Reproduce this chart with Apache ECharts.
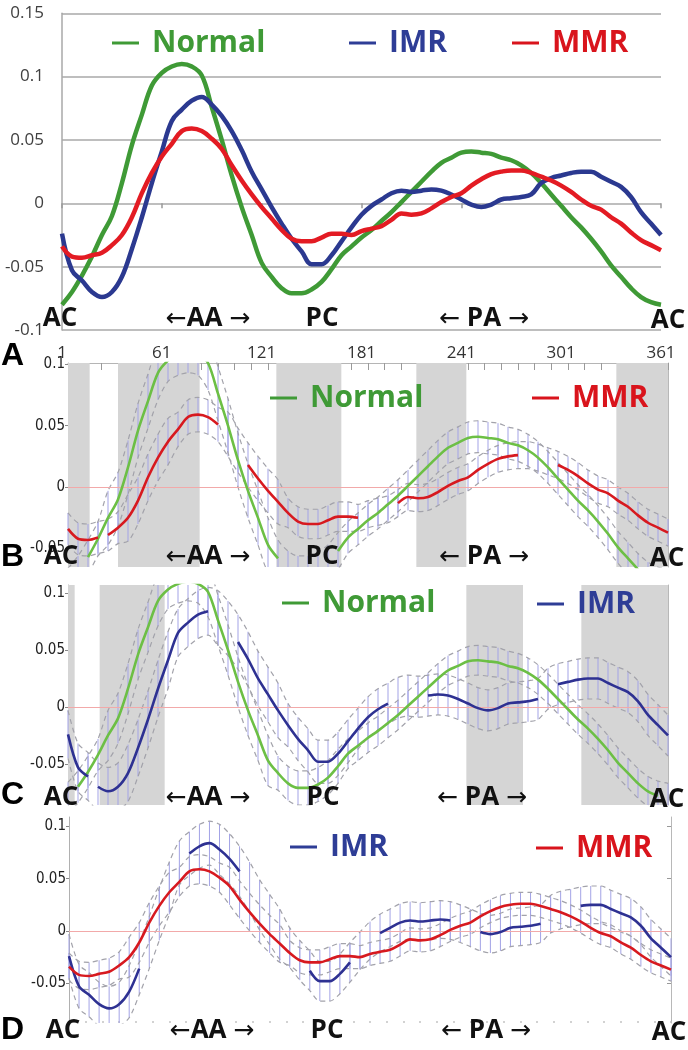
<!DOCTYPE html>
<html><head><meta charset="utf-8">
<script src="https://cdn.jsdelivr.net/npm/echarts@6/dist/echarts.min.js"></script>
<style>html,body{margin:0;padding:0;background:#fff}#c{width:688px;height:1050px}</style>
</head><body><div id="c"></div>
<script>
// ---------- data ----------
const deg = [1,7,13,19,25,31,37,43,49,55,61,67,73,79,85,91,97,103,109,115,121,127,133,139,145,151,157,163,169,175,181,187,193,199,205,211,217,223,229,235,241,247,253,259,265,271,277,283,289,295,301,307,313,319,325,331,337,343,349,355,361];
const normal = [-0.080,-0.070,-0.057,-0.042,-0.025,-0.010,0.016,0.046,0.070,0.093,
  0.103,0.108,0.110,0.108,0.101,0.076,0.050,0.022,-0.003,-0.025,
  -0.047,-0.058,-0.067,-0.071,-0.071,-0.068,-0.062,-0.052,-0.041,-0.034,
  -0.027,-0.021,-0.014,-0.007,0.001,0.009,0.017,0.025,0.032,0.036,
  0.040,0.041,0.040,0.039,0.036,0.034,0.030,0.024,0.016,0.007,
  -0.002,-0.011,-0.019,-0.028,-0.038,-0.049,-0.058,-0.067,-0.074,-0.078,-0.080];
const imr = [-0.024,-0.053,-0.061,-0.070,-0.074,-0.070,-0.058,-0.036,-0.011,0.016,
  0.041,0.065,0.074,0.081,0.084,0.078,0.069,0.057,0.042,0.025,
  0.011,-0.003,-0.016,-0.028,-0.038,-0.048,-0.048,-0.041,-0.030,-0.019,
  -0.009,-0.002,0.003,0.008,0.010,0.009,0.010,0.011,0.010,0.007,
  0.003,-0.001,-0.003,-0.001,0.003,0.004,0.005,0.007,0.016,0.020,
  0.022,0.024,0.025,0.025,0.021,0.017,0.013,0.005,-0.007,-0.016,-0.025];
const mmr = [-0.034,-0.042,-0.043,-0.041,-0.039,-0.033,-0.025,-0.011,0.008,0.024,
  0.037,0.047,0.057,0.059,0.057,0.051,0.043,0.030,0.018,0.007,
  -0.003,-0.012,-0.021,-0.028,-0.030,-0.030,-0.027,-0.024,-0.024,-0.025,
  -0.022,-0.020,-0.018,-0.013,-0.008,-0.009,-0.008,-0.004,0.001,0.005,
  0.008,0.014,0.019,0.023,0.025,0.026,0.026,0.024,0.021,0.018,
  0.014,0.009,0.003,-0.002,-0.005,-0.011,-0.016,-0.023,-0.029,-0.033,-0.037];
// half-widths of the dashed confidence envelopes
const ciNormal = [0.014,0.014,0.014,0.014,0.022,0.022,0.022,0.022,0.022,0.022,
  0.017,0.017,0.017,0.017,0.022,0.022,0.022,0.022,0.022,0.022,
  0.022,0.015,0.015,0.015,0.015,0.015,0.015,0.015,0.013,0.013,
  0.013,0.013,0.013,0.013,0.013,0.013,0.013,0.013,0.013,0.013,
  0.013,0.013,0.013,0.013,0.013,0.013,0.013,0.013,0.013,0.013,
  0.013,0.013,0.013,0.013,0.013,0.013,0.013,0.013,0.013,0.013,0.013];
const ciImr = [0.021,0.021,0.021,0.021,0.021,0.021,0.025,0.025,0.025,0.025,
  0.025,0.021,0.021,0.021,0.021,0.024,0.024,0.024,0.024,0.024,
  0.024,0.024,0.019,0.019,0.019,0.019,0.019,0.019,0.019,0.018,
  0.018,0.018,0.018,0.018,0.018,0.018,0.018,0.018,0.018,0.018,
  0.018,0.018,0.018,0.018,0.018,0.018,0.018,0.018,0.018,0.018,
  0.018,0.018,0.018,0.018,0.018,0.018,0.018,0.018,0.018,0.018,0.018];
const ciMmr = [0.013,0.013,0.013,0.013,0.013,0.013,0.019,0.019,0.019,0.019,
  0.019,0.014,0.014,0.014,0.014,0.014,0.018,0.018,0.018,0.018,
  0.018,0.018,0.012,0.012,0.012,0.012,0.012,0.012,0.012,0.011,
  0.011,0.011,0.011,0.011,0.011,0.011,0.011,0.011,0.011,0.011,
  0.011,0.011,0.011,0.011,0.011,0.011,0.011,0.011,0.011,0.011,
  0.011,0.011,0.011,0.011,0.011,0.011,0.011,0.011,0.011,0.011,0.011];
const aXLabels = [1,61,121,181,241,301,361];
const minorTicks = [1,11,21,31,41,51,61,71,81,91,101,111,121,131,141,151,161,171,181,191,201,211,221,231,241,251,261,271,281,291,301,311,321,331,341,351,361];
const yTicks = [-0.05,0,0.05,0.1];
// significant-difference regions (degrees)
const grayB = [[1,14],[31,80],[126,165],[210,240],[330,361]];
const grayC = [[1,5],[20,59],[240,274],[309,361]];
// drawn parts of the mean curves (degrees)
const segBNormal = [[13,127],[163,343]];
const segBMmr = [[1,19],[25,91],[109,175],[199,271],[295,361]];
const segCNormal = [[7,355]];
const segCImr = [[1,13],[19,85],[103,193],[217,287],[295,361]];
const segDImr = [[1,43],[73,103],[145,169],[187,229],[247,287],[307,361]];
const segDMmr = [[1,361]];
const regionLabels = ['AC','{a|\u2190}AA {a|\u2192}','PC','{a|\u2190} PA {a|\u2192}','AC'];

// ---------- helpers ----------
const C = {gA:'#3f9a36', bA:'#2b3990', rA:'#e31b23', g:'#6cbf45', b:'#2e3192', r:'#d7191f',
  gTxt:'#3f9a36', bTxt:'#2e3d96', rTxt:'#d9141c'};
const narrow = "'Liberation Sans Narrow','DejaVu Sans Condensed',sans-serif";

function pairs(vals){ return deg.map((d,i)=>[d, vals[i]]); }
function segLine(vals, segs){
  const out=[]; let prev=-1;
  deg.forEach((d,i)=>{
    const s = segs.findIndex(r=>d>=r[0]&&d<=r[1]);
    if(i>0 && s!==prev && s>=0 && prev>=0) out.push([(d+deg[i-1])/2,'-']);
    out.push([d, s>=0 ? vals[i] : '-']);
    prev=s;
  });
  return out;
}
function hatchItem(params, api){
  const x=api.value(0), lo=api.value(1), hi=api.value(2);
  const p1=api.coord([x,lo]), p2=api.coord([x,hi]);
  const cs=params.coordSys, top=cs.y, bot=cs.y+cs.height;
  const y1=Math.min(Math.max(p1[1],top),bot), y2=Math.min(Math.max(p2[1],top),bot);
  if(Math.abs(y1-y2)<0.5) return null;
  return {type:'line', shape:{x1:p1[0],y1:y1,x2:p1[0],y2:y2}, style:{stroke:'#a3a3e6', lineWidth:1}};
}
function grayItem(params, api){
  const a=api.coord([api.value(0),0]), b=api.coord([api.value(1),0]);
  const cs=params.coordSys;
  return {type:'rect', shape:{x:a[0], y:cs.y, width:b[0]-a[0], height:cs.height}, style:{fill:'#d5d5d5'}};
}
function grayS(data, xi, yi){
  return {type:'custom', xAxisIndex:xi, yAxisIndex:yi, renderItem:grayItem, data:data, encode:{x:[0,1]}, z:1, silent:true};
}
function band(vals, ci, xi, yi, zero){
  const up = deg.map((d,i)=>[d, +(vals[i]+ci[i]).toFixed(4)]);
  const lo = deg.map((d,i)=>[d, +(vals[i]-ci[i]).toFixed(4)]);
  const dash = {type:[5,4], color:'#a2a2aa', width:1.2};
  const s = [
    {type:'custom', xAxisIndex:xi, yAxisIndex:yi, renderItem:hatchItem,
      data: deg.map((d,i)=>[d, lo[i][1], up[i][1]]), encode:{x:0, y:[1,2]}, z:2, silent:true},
    {type:'line', xAxisIndex:xi, yAxisIndex:yi, data:up, smooth:0.3, showSymbol:false, lineStyle:dash, z:3, silent:true},
    {type:'line', xAxisIndex:xi, yAxisIndex:yi, data:lo, smooth:0.3, showSymbol:false, lineStyle:dash, z:3, silent:true}
  ];
  if(zero) s[2].markLine = {silent:true, symbol:'none', label:{show:false},
    lineStyle:{color:'#f2a9a9', width:1, type:'solid'}, data:[{yAxis:0}]};
  return s;
}
function mean(name, vals, segs, color, xi, yi){
  return {name:name, type:'line', xAxisIndex:xi, yAxisIndex:yi, data:segLine(vals, segs), smooth:0.3,
    showSymbol:false, connectNulls:false, lineStyle:{color:color, width:2.6}, itemStyle:{color:color}, z:5};
}
function lineA(name, vals, color, z){
  return {name:name, type:'line', xAxisIndex:0, yAxisIndex:0, data:pairs(vals), smooth:0.4,
    showSymbol:false, lineStyle:{color:color, width:4.5}, itemStyle:{color:color}, z:z};
}
function leftY(gi, min, max){
  return {gridIndex:gi, type:'value', min:min, max:max, position:'left',
    axisLine:{show:true, onZero:false, lineStyle:{color:'#b0b0b0', width:1}},
    axisTick:{show:true, customValues:yTicks, length:3, lineStyle:{color:'#888'}},
    axisLabel:{customValues:yTicks, margin:3, fontSize:15, fontFamily:narrow, color:'#222',
      formatter:v=>String(+(+v).toFixed(2))},
    splitLine:{show:false}};
}
function rightY(gi, min, max){
  return {gridIndex:gi, type:'value', min:min, max:max, position:'right',
    axisLine:{show:true, onZero:false, lineStyle:{color:'#b8b8b8', width:1}},
    axisTick:{show:true, inside:true, customValues:yTicks, length:4, lineStyle:{color:'#999'}},
    axisLabel:{show:false}, splitLine:{show:false}};
}

// ---------- graphics: legends, region labels, panel letters ----------
const graphic = [];
function legend(x, y, label, color){
  graphic.push({type:'rect', z:100, shape:{x:x, y:y-1.5, width:27, height:3}, style:{fill:color}});
  graphic.push({type:'text', z:100, x:x+40, y:y, style:{text:label, fill:color, font:'bold 30px "Open Sans"',
    textAlign:'left', textVerticalAlign:'middle', align:'left', verticalAlign:'middle'}});
}
legend(112,43,'Normal',C.gTxt); legend(349,43,'IMR',C.bTxt); legend(512,43,'MMR',C.rTxt);
legend(270,398,'Normal',C.gTxt); legend(532,398,'MMR',C.rTxt);
legend(282,603,'Normal',C.gTxt); legend(537,604,'IMR',C.bTxt);
legend(290,847,'IMR',C.bTxt); legend(536,848,'MMR',C.rTxt);
const arrowRich = {a:{fontFamily:'DejaVu Sans', fontSize:25, fontWeight:'normal', fill:'#111', color:'#111'}};
function regions(xs, y){
  xs.forEach((x,i)=>graphic.push({type:'text', z:100, x:x, y:(i===4? y+2 : y), style:{text:regionLabels[i], fill:'#111',
    font:'bold 26px "Open Sans"', rich:arrowRich, textAlign:'center', textVerticalAlign:'middle', align:'center', verticalAlign:'middle'}}));
}
regions([60,208,322,484,668],319);
regions([61,208,322,484,667],557);
regions([61,208,323,482,667],798);
regions([63,212,327,486,669],1031);
[['A',356],['B',557],['C',795],['D',1030]].forEach(p=>graphic.push({type:'text', z:100, x:1, y:p[1],
  style:{text:p[0], fill:'#000', font:'bold 32px "Liberation Sans"', textAlign:'left', textVerticalAlign:'middle', align:'left', verticalAlign:'middle'}}));

// ---------- option ----------
const option = {
  animation:false,
  backgroundColor:'#fff',
  graphic: graphic,
  grid:[
    {left:62, top:13.3, width:599, height:316.7},
    {left:68, top:363, width:600, height:204},
    {left:68, top:585, width:600, height:220},
    {left:69, top:817, width:602, height:206}
  ],
  xAxis:[
    {gridIndex:0, type:'value', min:1, max:361, position:'bottom',
      axisLine:{show:false, onZero:false}, axisTick:{show:false}, splitLine:{show:false},
      axisLabel:{customValues:aXLabels, margin:15, fontSize:17, color:'#333', fontFamily:'Open Sans'}},
    {gridIndex:0, type:'value', min:1, max:361, position:'bottom',
      axisLine:{show:false, onZero:true}, splitLine:{show:false}, axisLabel:{show:false},
      axisTick:{show:true, customValues:aXLabels, length:5, lineStyle:{color:'#999', width:1.5}}},
    {gridIndex:1, type:'value', min:1, max:361, position:'top',
      axisLine:{show:true, onZero:false, lineStyle:{color:'#b5b5b5', width:1}},
      axisTick:{show:true, inside:true, length:7, customValues:minorTicks, lineStyle:{color:'#9a9a9a'}},
      axisLabel:{show:false}, splitLine:{show:false}},
    {gridIndex:2, type:'value', min:1, max:361, position:'bottom',
      axisLine:{show:false, onZero:false}, axisTick:{show:false}, axisLabel:{show:false}, splitLine:{show:false}},
    {gridIndex:3, type:'value', min:1, max:361, position:'bottom',
      axisLine:{show:false, onZero:false}, axisLabel:{show:false}, splitLine:{show:false},
      axisTick:{show:true, inside:true, length:2, customValues:minorTicks, lineStyle:{color:'#c4c4c4', width:1.5}}}
  ],
  yAxis:[
    {gridIndex:0, type:'value', min:-0.1, max:0.15, interval:0.05,
      axisLine:{show:true, lineStyle:{color:'#a8a8a8', width:1.5}}, axisTick:{show:false},
      splitLine:{show:true, lineStyle:{color:'#a8a8a8', width:1.5}},
      axisLabel:{margin:18, fontSize:17, color:'#404040', fontFamily:'Open Sans', formatter:v=>String(+(+v).toFixed(2))}},
    leftY(1,-0.065,0.101), rightY(1,-0.065,0.101),
    leftY(2,-0.086,0.107), rightY(2,-0.086,0.107),
    leftY(3,-0.088,0.109), rightY(3,-0.088,0.109)
  ],
  series:[
    lineA('Normal', normal, C.gA, 3), lineA('IMR', imr, C.bA, 4), lineA('MMR', mmr, C.rA, 5),
    grayS(grayB,2,1),
    ...band(normal, ciNormal, 2, 1, true),
    ...band(mmr, ciMmr, 2, 1, false),
    mean('Normal', normal, segBNormal, C.g, 2, 1),
    mean('MMR', mmr, segBMmr, C.r, 2, 1),
    grayS(grayC,3,3),
    ...band(normal, ciNormal, 3, 3, true),
    ...band(imr, ciImr, 3, 3, false),
    mean('Normal', normal, segCNormal, C.g, 3, 3),
    mean('IMR', imr, segCImr, C.b, 3, 3),
    ...band(imr, ciImr, 4, 5, true),
    ...band(mmr, ciMmr, 4, 5, false),
    mean('IMR', imr, segDImr, C.b, 4, 5),
    mean('MMR', mmr, segDMmr, C.r, 4, 5)
  ]
};
const chart = echarts.init(document.getElementById('c'), null, {renderer:'canvas'});
chart.setOption(option);
</script></body></html>
